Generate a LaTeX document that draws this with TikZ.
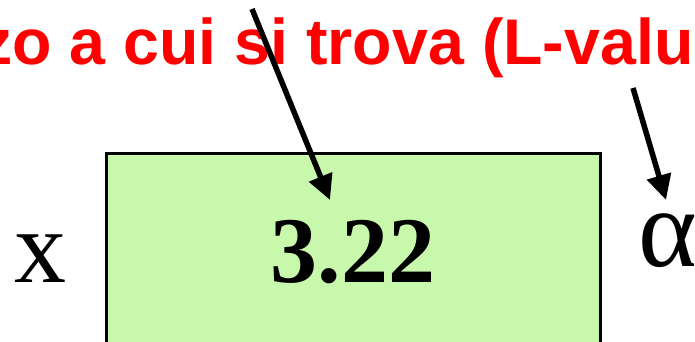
\documentclass[tikz,border=0pt]{standalone}
\usepackage{fontspec}
\setmainfont{Liberation Serif}
\newfontfamily\labelsans{Liberation Sans}
\usetikzlibrary{arrows.meta}
\definecolor{boxgreen}{RGB}{200,248,172}
\definecolor{labelred}{RGB}{255,0,0}
\tikzset{
  pointer/.style={line width=5.5pt,-{Triangle[length=25pt,width=24pt]}},
  headline/.style={inner sep=0pt,anchor=base west,text=labelred,font=\labelsans\bfseries\fontsize{64.5}{70}\selectfont},
  valbox/.style={draw=black,line width=2.6pt,fill=boxgreen,inner sep=0pt,minimum width=494pt,minimum height=220pt},
  bigtext/.style={inner sep=0pt,anchor=base}
}
\begin{document}
\begin{tikzpicture}[x=1pt,y=1pt]
\useasboundingbox (0,0) rectangle (695,342);
\clip (0,0) rectangle (695,342);
\node[valbox] (box) at (353.5,78.5) {};
\node[bigtext,font=\bfseries\fontsize{94}{100}\selectfont] (val) at (353,59) {3.22};
\node[bigtext,font=\fontsize{104}{110}\selectfont] (xname) at (40,59) {x};
\node[inner sep=0pt,anchor=base west,font=\fontsize{112}{118}\selectfont] (alpha) at (638,75) {α};
\node[headline] (head) at (-20,277) {zo a cui si trova (L-value};
\coordinate (s1) at (252,333);
\coordinate (t1) at (330,142);
\coordinate (s2) at (633,254);
\coordinate (t2) at (666,142);
\draw[pointer] (s1) -- (t1);
\draw[pointer] (s2) -- (t2);
\end{tikzpicture}
\end{document}
